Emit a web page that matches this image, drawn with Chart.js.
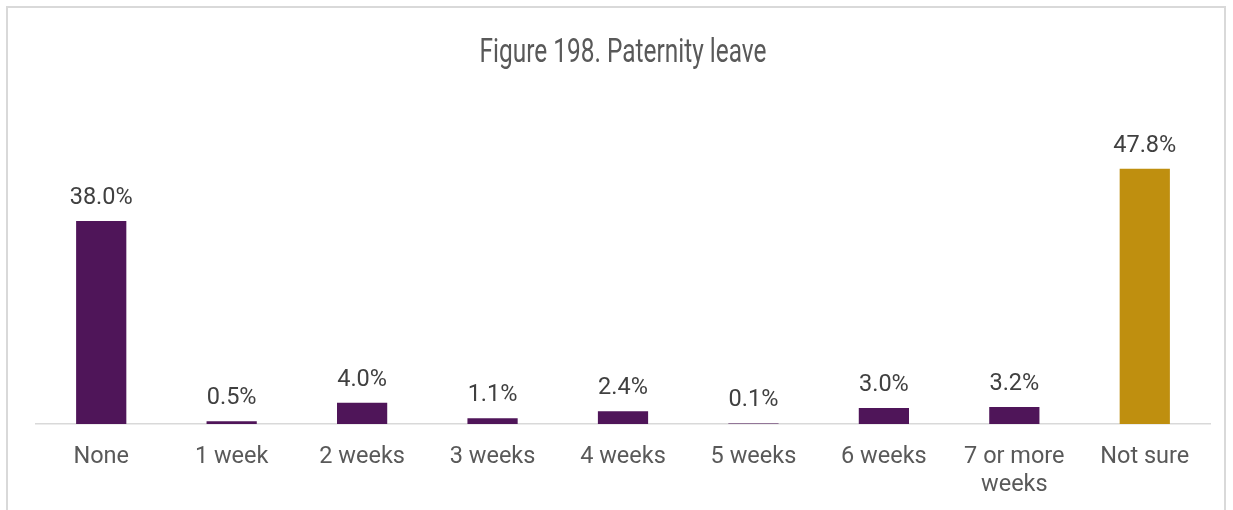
<!DOCTYPE html>
<html>
<head>
<meta charset="utf-8">
<script src="https://cdn.jsdelivr.net/npm/chart.js@4"></script>
<style>
  html, body { margin: 0; padding: 0; background: #fff; overflow: hidden; }
  #frame { position: absolute; left: 6px; top: 6px; width: 1216px; height: 600px; border: 2px solid #d9d9d9; }
  #c { position: absolute; left: 0; top: 0; }
</style>
</head>
<body>
<div id="frame"></div>
<canvas id="c" width="1233" height="510"></canvas>
<script>
// Paternity leave length, share of respondents (%)
const categories = ['None', '1 week', '2 weeks', '3 weeks', '4 weeks', '5 weeks', '6 weeks', ['7 or more', 'weeks'], 'Not sure'];
const shares = [38.0, 0.5, 4.0, 1.1, 2.4, 0.1, 3.0, 3.2, 47.8];
const barColors = ['#4f1559', '#4f1559', '#4f1559', '#4f1559', '#4f1559', '#4f1559', '#4f1559', '#4f1559', '#bf8f0f'];
const titleText = 'Figure 198. Paternity leave';

// Value labels above each bar
const valueLabels = {
  id: 'valueLabels',
  afterDatasetsDraw(chart) {
    const ctx = chart.ctx;
    const meta = chart.getDatasetMeta(0);
    ctx.save();
    ctx.font = '23.5px Roboto';
    ctx.fillStyle = '#404040';
    ctx.textAlign = 'center';
    ctx.textBaseline = 'alphabetic';
    meta.data.forEach((bar, i) => {
      ctx.fillText(shares[i].toFixed(1) + '%', bar.x, bar.y - 17);
    });
    ctx.restore();
  }
};

// Narrow heading centred over the plot (Roboto squeezed to a condensed width)
const heading = {
  id: 'heading',
  afterDraw(chart) {
    const ctx = chart.ctx;
    const a = chart.chartArea;
    const cx = (a.left + a.right) / 2;
    ctx.save();
    ctx.font = '33px Roboto';
    ctx.fillStyle = '#595959';
    ctx.textAlign = 'center';
    ctx.textBaseline = 'alphabetic';
    const w = ctx.measureText(titleText).width;
    const sx = 287 / w;
    ctx.translate(cx, 62);
    ctx.scale(sx, 1);
    ctx.fillText(titleText, 0, 0);
    ctx.restore();
  }
};

new Chart(document.getElementById('c'), {
  type: 'bar',
  data: {
    labels: categories,
    datasets: [{
      data: shares,
      backgroundColor: barColors,
      borderWidth: 0,
      categoryPercentage: 1,
      barPercentage: 0.385
    }]
  },
  options: {
    responsive: false,
    animation: false,
    layout: { padding: { left: 36, right: 23, top: 157, bottom: 0 } },
    plugins: { legend: { display: false }, tooltip: { enabled: false }, title: { display: false } },
    scales: {
      x: {
        grid: { display: false, drawTicks: false },
        border: { display: true, color: '#d9d9d9', width: 1.5 },
        ticks: {
          color: '#595959',
          font: { family: 'Roboto', size: 23.5, lineHeight: 1.2 },
          padding: 19,
          maxRotation: 0,
          autoSkip: false
        },
        afterFit(scale) { scale.height = 86; }
      },
      y: {
        display: false,
        min: 0,
        max: 50
      }
    }
  },
  plugins: [valueLabels, heading]
});
</script>
</body>
</html>
